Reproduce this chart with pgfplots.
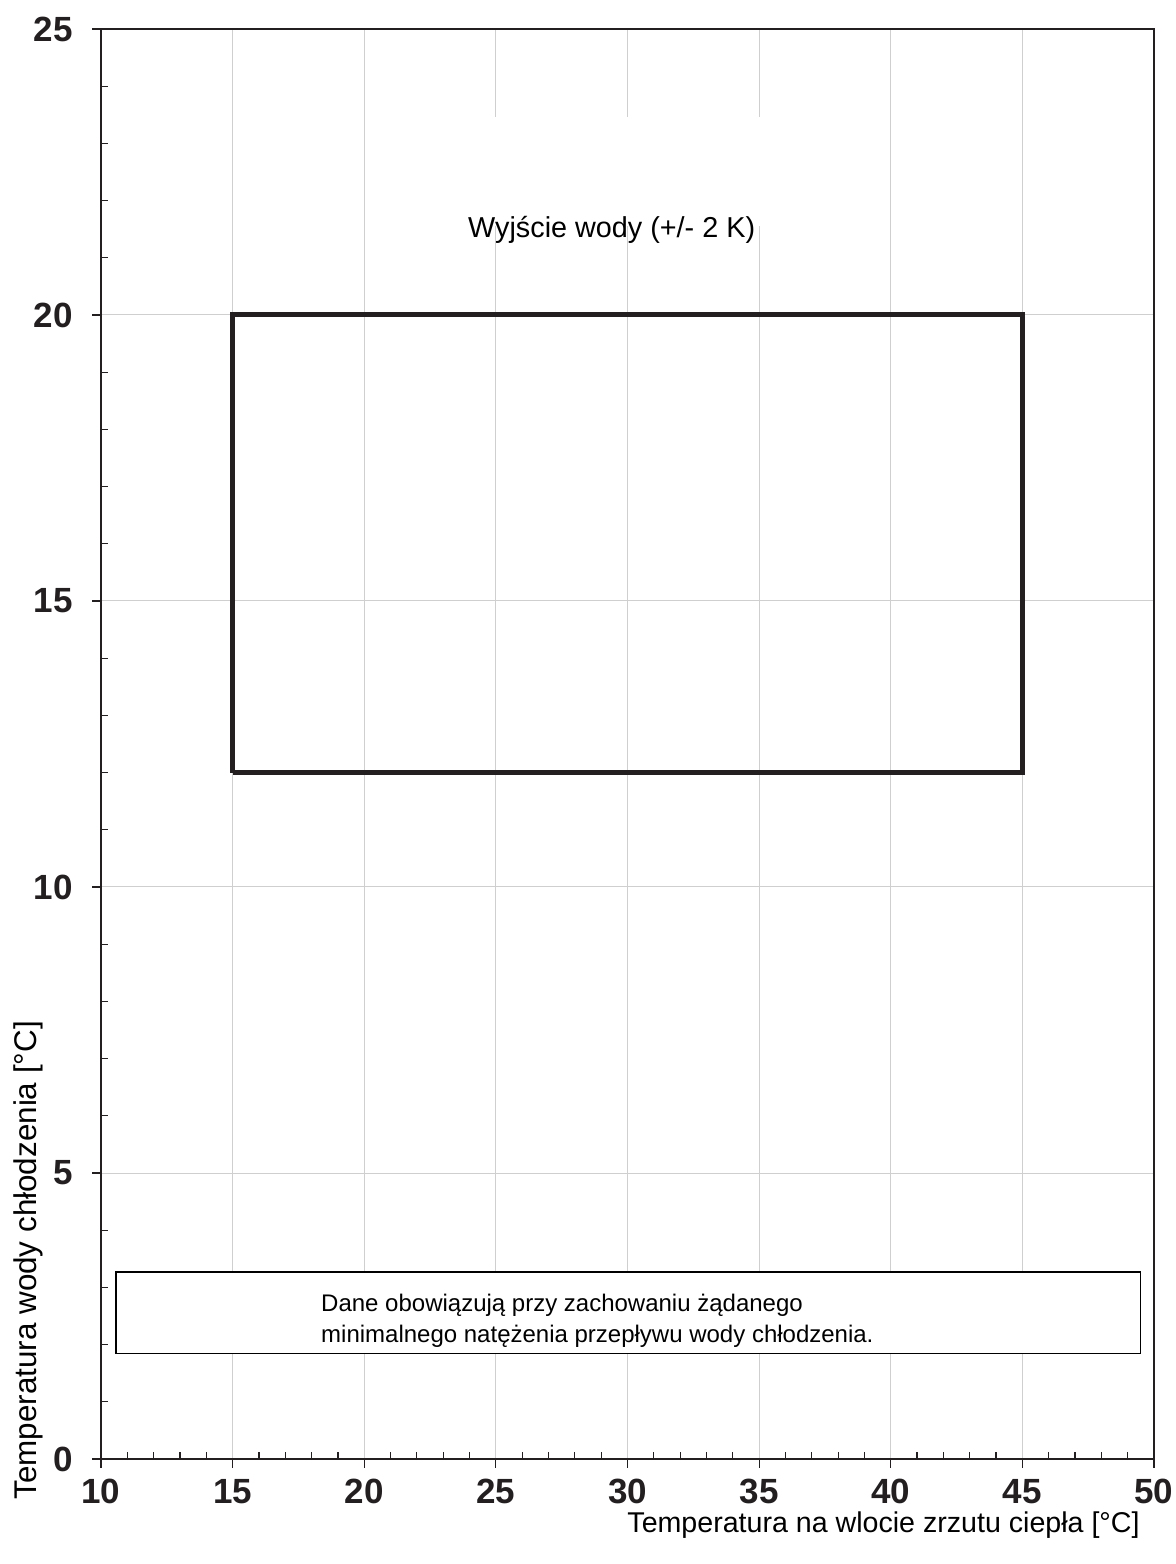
\documentclass[border=0pt]{standalone}
\usepackage{fontspec}
\setmainfont{Liberation Sans}
\usepackage{pgfplots}
\pgfplotsset{compat=1.18}
\definecolor{axcol}{RGB}{35,31,32}
\begin{document}
\begin{tikzpicture}
\useasboundingbox (-50.5pt,-52.5pt) rectangle (537.5pt,729.5pt);
\begin{axis}[
  at={(0pt,0pt)}, anchor=south west,
  scale only axis, width=526.5pt, height=715pt,
  xmin=10, xmax=50, ymin=0, ymax=25,
  xtick={10,15,...,50}, ytick={0,5,...,25},
  minor x tick num=4, minor y tick num=4,
  xtick pos=bottom, ytick pos=left,
  tick align=inside,
  major tick length=-4.5pt, minor tick length=3.5pt,
  every tick/.style={axcol, line width=0.6pt},
  axis line style={axcol, line width=1pt},
  grid=major,
  major grid style={gray!38, line width=0.5pt},
  /pgf/number format/assume math mode=true,
  ticklabel style={font=\fontsize{17.5}{19}\selectfont\bfseries, text=axcol},
  xticklabel style={anchor=north, inner sep=0pt, yshift=-10pt},
  yticklabel style={anchor=east, inner sep=0pt, xshift=-14pt},
]
\addplot[axcol, line width=2.5pt, line join=miter] coordinates {(15,12) (45,12) (45,20) (15,20) (15,12)};
\fill[white] (axis cs:23.9,21.55) rectangle (axis cs:35.1,23.46);
\node[anchor=base, inner sep=0pt, font=\fontsize{14.4}{16}\selectfont] at (axis cs:29.40,21.36) {Wyjście wody (+/- 2 K)};
\draw[black, line width=0.6pt, fill=white] (axis cs:10.57,1.84) rectangle (axis cs:49.5,3.27);
\node[anchor=west, inner sep=0pt, align=left, font=\fontsize{12}{15.5}\selectfont] at (axis cs:18.35,2.42) {Dane obowiązują przy zachowaniu żądanego\\minimalnego natężenia przepływu wody chłodzenia.};
\end{axis}
\node[rotate=90, anchor=west, inner sep=0pt, font=\fontsize{15.7}{17}\selectfont] at (-36.5pt,-20.5pt) {Temperatura wody chłodzenia [°C]};
\node[anchor=east, inner sep=0pt, font=\fontsize{14.3}{16}\selectfont] at (519.5pt,-33pt) {Temperatura na wlocie zrzutu ciepła [°C]};
\end{tikzpicture}
\end{document}
